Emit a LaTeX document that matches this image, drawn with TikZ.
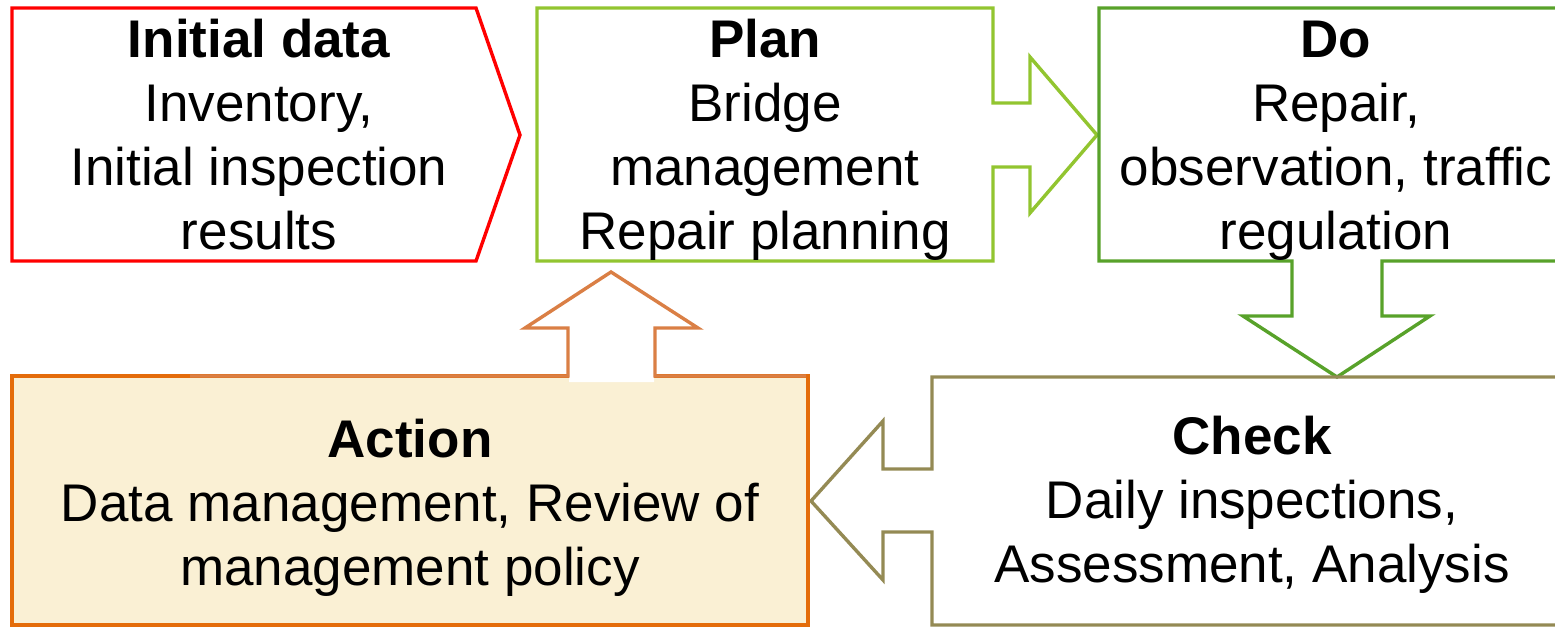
\documentclass[tikz,border=0pt]{standalone}
\usepackage{fontspec}
\setmainfont{Liberation Sans}
\definecolor{initred}{HTML}{FF0000}
\definecolor{plangreen}{HTML}{92C530}
\definecolor{dogreen}{HTML}{58A22A}
\definecolor{checkolive}{HTML}{948A54}
\definecolor{actorange}{HTML}{E46C0A}
\definecolor{actarrow}{HTML}{DA7F45}
\definecolor{actfill}{HTML}{FAF0D4}
\begin{document}
\begin{tikzpicture}[x=1pt,y=-1pt,line width=3.4pt,line join=miter,
  lbl/.style={align=center,inner sep=0pt,anchor=base,
    font=\fontsize{53}{64}\selectfont}]
\useasboundingbox (0,0) rectangle (1555,628);
\clip (0,0) rectangle (1555,628);

% Initial data: pentagon pointing right
\draw[initred] (12,8) -- (476,8) -- (520,135) -- (476,261) -- (12,261) -- cycle;

% Plan: box with block arrow towards Do
\draw[plangreen] (537,8) -- (993,8) -- (993,103) -- (1030,103) -- (1030,57)
  -- (1097,135) -- (1030,213) -- (1030,167) -- (993,167) -- (993,261)
  -- (537,261) -- cycle;

% Do: box with block arrow down to Check
\draw[dogreen] (1099,8) -- (1590,8) -- (1590,261) -- (1382,261) -- (1382,316)
  -- (1430,316) -- (1337,377) -- (1243,316) -- (1292,316) -- (1292,261)
  -- (1099,261) -- cycle;

% Check: box with block arrow left to Action
\draw[checkolive] (932,377) -- (1590,377) -- (1590,625) -- (932,625)
  -- (932,532) -- (883,532) -- (883,580) -- (811,501) -- (883,421)
  -- (883,469) -- (932,469) -- cycle;

% Action: filled box with block arrow up to Plan
\draw[actorange,fill=actfill] (12,376) rectangle (808,625);
\fill[white] (569,382) -- (569,328) -- (525,328) -- (611,272) -- (698,328)
  -- (654,328) -- (654,382) -- cycle;
\draw[actarrow] (190,376) -- (568,376) -- (568,328) -- (525,328) -- (611,272)
  -- (698,328) -- (655,328) -- (655,376) -- (806,376);

% Labels (anchored at the baseline of their last line)
\node[lbl] (init) at (259,250) {\bfseries Initial data\\Inventory,\\Initial inspection\\results};
\node[lbl] (plan) at (765,250) {\bfseries Plan\\Bridge\\management\\Repair planning};
\node[lbl] (do) at (1336,250) {\bfseries Do\\Repair,\\observation, traffic\\regulation};
\node[lbl] (check) at (1252,582) {\bfseries Check\\Daily inspections,\\Assessment, Analysis};
\node[lbl] (action) at (410,585) {\bfseries Action\\Data management, Review of\\management policy};
\end{tikzpicture}
\end{document}
